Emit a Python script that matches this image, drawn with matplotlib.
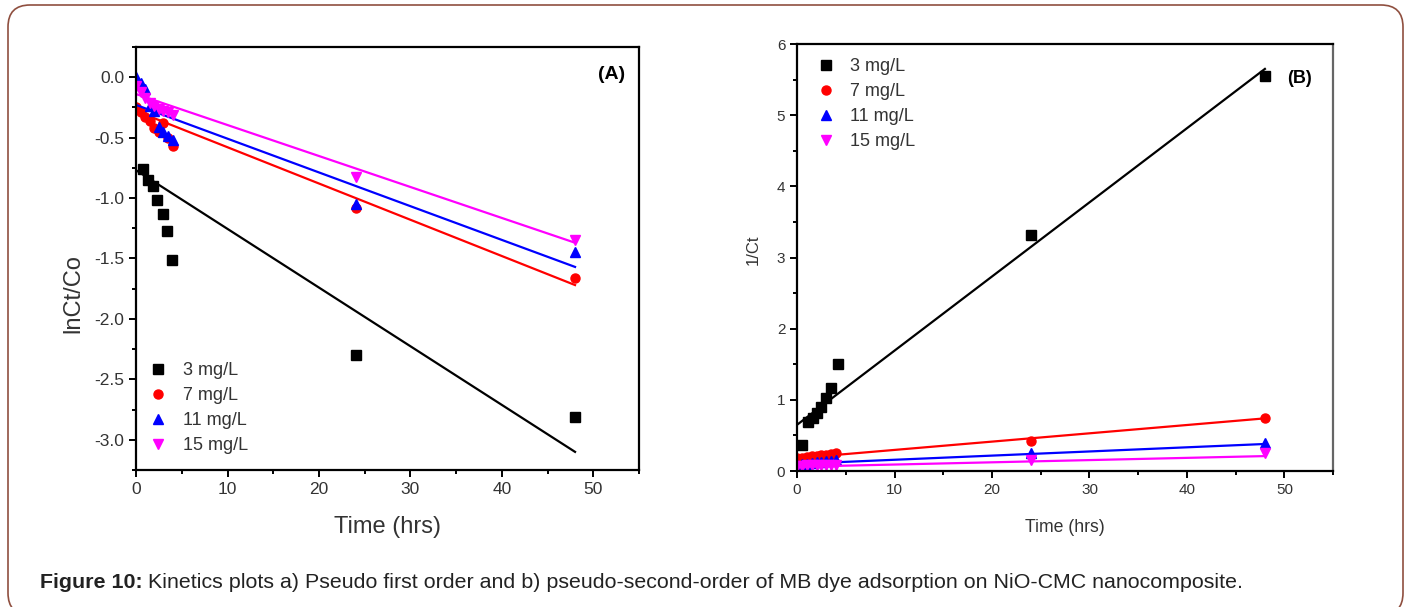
import numpy as np
import matplotlib
matplotlib.use("Agg")
import matplotlib.pyplot as plt
from matplotlib.patches import FancyBboxPatch
from matplotlib.transforms import IdentityTransform
from matplotlib.ticker import MultipleLocator, FormatStrFormatter

plt.rcParams['font.family'] = ['Liberation Sans', 'DejaVu Sans']

labels = ['3 mg/L', '7 mg/L', '11 mg/L', '15 mg/L']
colors = ['black', 'red', 'blue', 'magenta']
markers = ['s', 'o', '^', 'v']

t_early = [0, 0.5, 1, 1.5, 2, 2.5, 3, 3.5, 4, 24, 48]

# (A) pseudo first order, lnCt/Co
a_t_black = [0.8, 1.3, 1.8, 2.3, 2.9, 3.4, 3.9, 24, 48]
a_black = [-0.76, -0.85, -0.90, -1.02, -1.13, -1.27, -1.51, -2.30, -2.81]
a_red = [-0.25, -0.29, -0.33, -0.36, -0.42, -0.45, -0.38, -0.50, -0.57, -1.08, -1.66]
a_blue = [0.0, -0.05, -0.10, -0.24, -0.28, -0.41, -0.45, -0.49, -0.52, -1.05, -1.45]
a_magenta = [-0.07, -0.12, -0.17, -0.21, -0.24, -0.26, -0.28, -0.29, -0.31, -0.83, -1.35]
a_fit_t = [0, 48]
a_fit = [[-0.77, -3.10], [-0.28, -1.72], [-0.23, -1.57], [-0.14, -1.37]]

# (B) pseudo second order, 1/Ct
b_t_black = [0.5, 1.1, 1.6, 2.0, 2.5, 3.0, 3.5, 4.2, 24, 48]
b_black = [0.37, 0.69, 0.74, 0.81, 0.90, 1.02, 1.17, 1.50, 3.31, 5.55]
b_red = [0.18, 0.19, 0.20, 0.21, 0.21, 0.22, 0.22, 0.24, 0.25, 0.42, 0.75]
b_blue = [0.09, 0.095, 0.10, 0.11, 0.12, 0.13, 0.14, 0.145, 0.15, 0.25, 0.39]
b_magenta = [0.07, 0.075, 0.08, 0.08, 0.085, 0.085, 0.09, 0.09, 0.09, 0.15, 0.25]
b_fit_t = [0, 48]
b_fit = [[0.65, 5.65], [0.18, 0.74], [0.10, 0.38], [0.06, 0.21]]

fig = plt.figure(figsize=(14.07, 6.07), dpi=100)
ax1 = fig.add_axes([0.0967, 0.2257, 0.3575, 0.697])
ax2 = fig.add_axes([0.5665, 0.224, 0.381, 0.7035])

tick_col = '#333333'


def style(ax, fs):
    for s in ax.spines.values():
        s.set_linewidth(1.6)
    ax.tick_params(which='both', direction='out', width=1.4, colors='black',
                   labelcolor=tick_col, labelsize=fs)
    ax.tick_params(which='major', length=5)
    ax.tick_params(which='minor', length=3)
    ax.xaxis.set_major_locator(MultipleLocator(10))
    ax.xaxis.set_minor_locator(MultipleLocator(5))


# panel A
a_series = [(a_t_black, a_black), (t_early, a_red), (t_early, a_blue), (t_early, a_magenta)]
for i, (tt, vv) in enumerate(a_series):
    ax1.plot(a_fit_t, a_fit[i], color=colors[i], lw=1.6)
    ax1.plot(tt, vv, ls='none', marker=markers[i], color=colors[i], ms=6.5, label=labels[i])
ax1.set_xlim(0, 55)
ax1.set_ylim(-3.25, 0.25)
style(ax1, 12.5)
ax1.yaxis.set_major_locator(MultipleLocator(0.5))
ax1.yaxis.set_minor_locator(MultipleLocator(0.25))
ax1.yaxis.set_major_formatter(FormatStrFormatter('%.1f'))
ax1.set_xlabel('Time (hrs)', fontsize=17, color=tick_col)
ax1.xaxis.set_label_coords(0.5, -0.109)
ax1.set_ylabel('lnCt/Co', fontsize=17, color=tick_col)
ax1.yaxis.set_label_coords(-0.103, 0.418)
ax1.text(0.946, 0.934, '(A)', transform=ax1.transAxes, fontsize=14,
         fontweight='bold', ha='center', va='center')
ax1.legend(loc='upper left', bbox_to_anchor=(0.012, 0.272), borderaxespad=0,
           frameon=False, fontsize=13, handletextpad=0.88, handlelength=1.0,
           labelspacing=0.44, labelcolor=tick_col)

# panel B
b_series = [(b_t_black, b_black), (t_early, b_red), (t_early, b_blue), (t_early, b_magenta)]
for i, (tt, vv) in enumerate(b_series):
    ax2.plot(b_fit_t, b_fit[i], color=colors[i], lw=1.6)
    ax2.plot(tt, vv, ls='none', marker=markers[i], color=colors[i], ms=6.5, label=labels[i])
ax2.set_xlim(0, 55)
ax2.set_ylim(0, 6)
style(ax2, 11)
ax2.yaxis.set_major_locator(MultipleLocator(1))
ax2.yaxis.set_minor_locator(MultipleLocator(0.5))
ax2.spines['right'].set_color('#666666')
ax2.set_xlabel('Time (hrs)', fontsize=12.7, color=tick_col)
ax2.xaxis.set_label_coords(0.5, -0.112)
ax2.set_ylabel('1/Ct', fontsize=12, color=tick_col)
ax2.yaxis.set_label_coords(-0.067, 0.518)
ax2.text(0.938, 0.920, '(B)', transform=ax2.transAxes, fontsize=13,
         fontweight='bold', ha='center', va='center')
ax2.legend(loc='upper left', bbox_to_anchor=(0.024, 0.984), borderaxespad=0,
           frameon=False, fontsize=13, handletextpad=0.82, handlelength=1.0,
           labelspacing=0.44, labelcolor=tick_col)

# rounded frame around the figure
frame = FancyBboxPatch((8, -8), 1395, 610, boxstyle='round,pad=0,rounding_size=22',
                       transform=IdentityTransform(), fill=False,
                       edgecolor='#8f4f3f', linewidth=1.2)
fig.add_artist(frame)

# caption
r = fig.canvas.get_renderer()
t1 = fig.text(40 / 1407, 24 / 607, 'Figure 10:', fontsize=15.4, fontweight='bold',
              color='#222222', va='center')
bb = t1.get_window_extent(renderer=r)
fig.text((bb.x1 + 5) / 1407, 24 / 607,
         'Kinetics plots a) Pseudo first order and b) pseudo-second-order of MB dye '
         'adsorption on NiO-CMC nanocomposite.',
         fontsize=15.4, color='#222222', va='center')

fig.savefig('out.png', dpi=100)
